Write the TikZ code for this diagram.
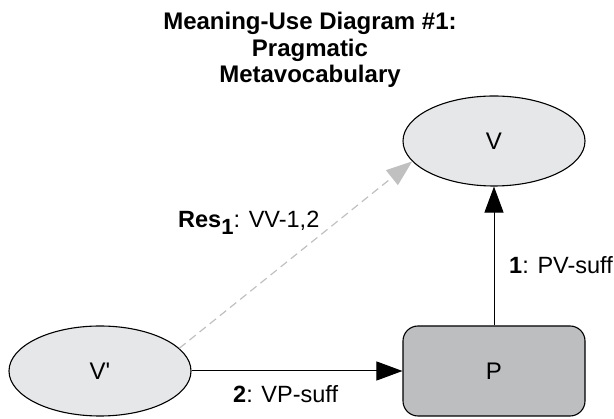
\documentclass[tikz,border=0pt]{standalone}
\usepackage{fontspec}
\setmainfont{Liberation Sans}
\usetikzlibrary{shapes.geometric,arrows.meta}
\definecolor{ellfill}{HTML}{E6E7E8}
\definecolor{boxfill}{HTML}{BCBEC0}
\definecolor{dashgray}{HTML}{C0C0C0}
\begin{document}
\begin{tikzpicture}[x=1pt,y=-1pt,
  every node/.style={font=\fontsize{24}{28}\selectfont},
  vocab/.style={ellipse,draw=black,line width=1.1pt,fill=ellfill,minimum width=182pt,minimum height=90pt,inner sep=0pt},
  prac/.style={rectangle,rounded corners=15pt,draw=black,line width=1.1pt,fill=boxfill,minimum width=182pt,minimum height=90pt,inner sep=0pt},
  rel/.style={line width=1pt,-{Triangle[length=26pt,width=19pt]}},
  resrel/.style={line width=1.2pt,draw=dashgray,dash pattern=on 8pt off 5pt,-{Triangle[length=26pt,width=19pt,fill=dashgray]}},
  lbl/.style={inner sep=0pt,anchor=base west,font=\fontsize{23.5}{28}\selectfont},
  ttl/.style={inner sep=0pt,anchor=base,font=\bfseries\fontsize{24}{28}\selectfont}]
\useasboundingbox (0,0) rectangle (614,419);

\node[ttl] (t1) at (310,30) {Meaning-Use Diagram \#1:};
\node[ttl] (t2) at (310,56.5) {Pragmatic};
\node[ttl] (t3) at (310,83) {Metavocabulary};

\node[vocab] (V) at (494,141) {V};
\node[vocab] (Vp) at (100,371) {V\textquotesingle};
\node[prac] (P) at (494,371) {P};

\draw[rel] (P.north) -- (V.south);
\draw[rel] (Vp.east) -- (P.west);
\draw[resrel] (Vp.16) -- (V.194);

\node[lbl] (l1) at (509,274) {\textbf{1}: PV-suff};
\node[lbl] (l2) at (233,403) {\textbf{2}: VP-suff};
\node[lbl] (l3) at (178,228) {\textbf{Res}\raisebox{-7pt}{\fontsize{22}{22}\selectfont\textbf{1}}: VV-1,2};
\end{tikzpicture}
\end{document}
